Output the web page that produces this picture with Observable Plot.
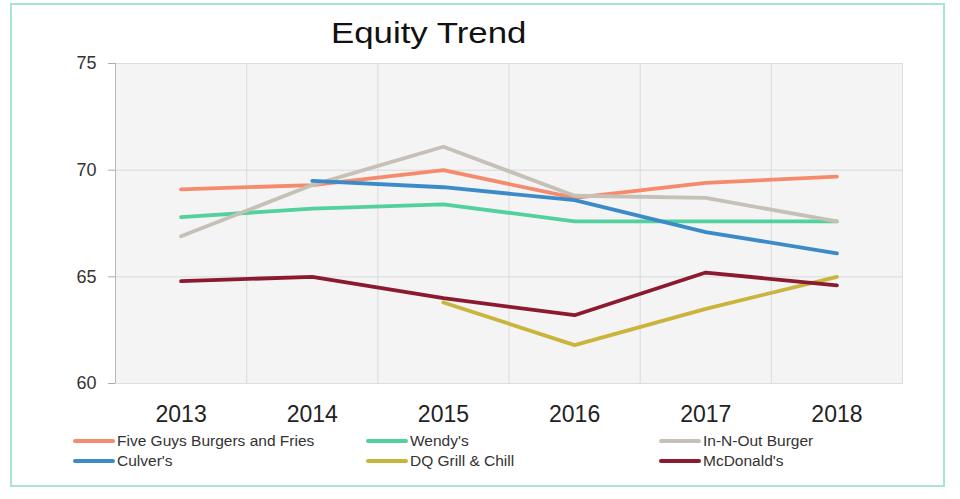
<!DOCTYPE html>
<html>
<head>
<meta charset="utf-8">
<script src="https://cdn.jsdelivr.net/npm/d3@7"></script>
<script src="https://cdn.jsdelivr.net/npm/@observablehq/plot@0.6"></script>
<style>
  html, body { margin: 0; padding: 0; background: #fff; }
  #wrap { position: relative; width: 960px; height: 499px; overflow: hidden; font-family: "Liberation Sans", Arial, sans-serif; }
  #border { position: absolute; left: 10px; top: 3px; width: 931px; height: 480px; border: 2px solid #a6e6cd; }
  #chart { position: absolute; left: 0; top: 0; }
  #title { position: absolute; left: 331px; top: 19px; font-size: 29px; line-height: 1; color: #111; transform: scaleX(1.2); transform-origin: left top; white-space: nowrap; }
  .leg { position: absolute; display: flex; align-items: center; font-size: 15.5px; color: #333; white-space: nowrap; }
  .sw { width: 42px; height: 4px; border-radius: 2px; margin-right: 2px; }
  svg g[aria-label="x-axis tick label"] text { font-size: 23px; }
  svg g[aria-label="y-axis tick label"] text { font-size: 18px; }
</style>
</head>
<body>
<div id="wrap">
  <div id="border"></div>
  <div id="chart"></div>
  <div id="title">Equity Trend</div>
  <div id="legend"></div>
</div>
<script>
const years = [2013, 2014, 2015, 2016, 2017, 2018];
const seriesNames = ["Five Guys Burgers and Fries", "Wendy's", "In-N-Out Burger", "Culver's", "DQ Grill & Chill", "McDonald's"];
const fiveGuys  = [69.1, 69.3, 70.0, 68.7, 69.4, 69.7];
const wendys    = [67.8, 68.2, 68.4, 67.6, 67.6, 67.6];
const inNOut    = [66.9, 69.3, 71.1, 68.8, 68.7, 67.6];
const culvers   = [null, 69.5, 69.2, 68.6, 67.1, 66.1];
const dqGrill   = [null, null, 63.8, 61.8, 63.5, 65.0];
const mcdonalds = [64.8, 65.0, 64.0, 63.2, 65.2, 64.6];
const yTicks = [60, 65, 70, 75];
const colors = ["#f58b6c", "#52d09e", "#c6c1b6", "#3a8bc8", "#c9b43c", "#8b1a31"];

const seriesValues = [fiveGuys, wendys, inNOut, culvers, dqGrill, mcdonalds];
const data = [];
seriesNames.forEach((name, i) => {
  seriesValues[i].forEach((v, j) => {
    if (v != null) data.push({series: name, year: years[j], value: v});
  });
});
const gridX = years.slice(0, -1).map(y => y + 0.5);
const xDomain = [years[0] - 0.5, years[years.length - 1] + 0.5];

const chart = Plot.plot({
  width: 960,
  height: 499,
  marginLeft: 115,
  marginRight: 58,
  marginTop: 63,
  marginBottom: 116,
  style: {fontFamily: "'Liberation Sans', Arial, sans-serif", color: "#333", background: "transparent"},
  x: {domain: xDomain, axis: null, label: null},
  y: {domain: [yTicks[0], yTicks[yTicks.length - 1]], axis: null, label: null},
  color: {domain: seriesNames, range: colors},
  marks: [
    Plot.frame({fill: "#f4f4f4", stroke: "#dedede"}),
    Plot.ruleX(gridX, {stroke: "#dadada", strokeWidth: 1}),
    Plot.ruleY(yTicks.slice(1, -1), {stroke: "#dadada", strokeWidth: 1}),
    Plot.ruleX([xDomain[0]], {stroke: "#b8b8b8", strokeWidth: 1}),
    Plot.line(data, {x: "year", y: "value", z: "series", stroke: "series", strokeWidth: 3.8, strokeLinecap: "round", strokeLinejoin: "round"}),
    Plot.axisX({ticks: years, tickFormat: d => String(d), tickSize: 0, tickPadding: 22, fontSize: 23, fill: "#222", label: null}),
    Plot.axisY({ticks: yTicks, tickSize: 7, tickPadding: 12, fontSize: 18, stroke: "#aaa", fill: "#333", label: null})
  ]
});
document.getElementById("chart").appendChild(chart);

// legend
const legendCols = [73, 366, 659];
const legendRows = [441, 461];
const legend = document.getElementById("legend");
seriesNames.forEach((name, i) => {
  const item = document.createElement("div");
  item.className = "leg";
  item.style.left = legendCols[i % 3] + "px";
  item.style.top = (legendRows[Math.floor(i / 3)] - 9) + "px";
  item.style.height = "18px";
  const sw = document.createElement("div");
  sw.className = "sw";
  sw.style.background = colors[i];
  const tx = document.createElement("span");
  tx.textContent = name;
  item.appendChild(sw);
  item.appendChild(tx);
  legend.appendChild(item);
});
</script>
</body>
</html>
